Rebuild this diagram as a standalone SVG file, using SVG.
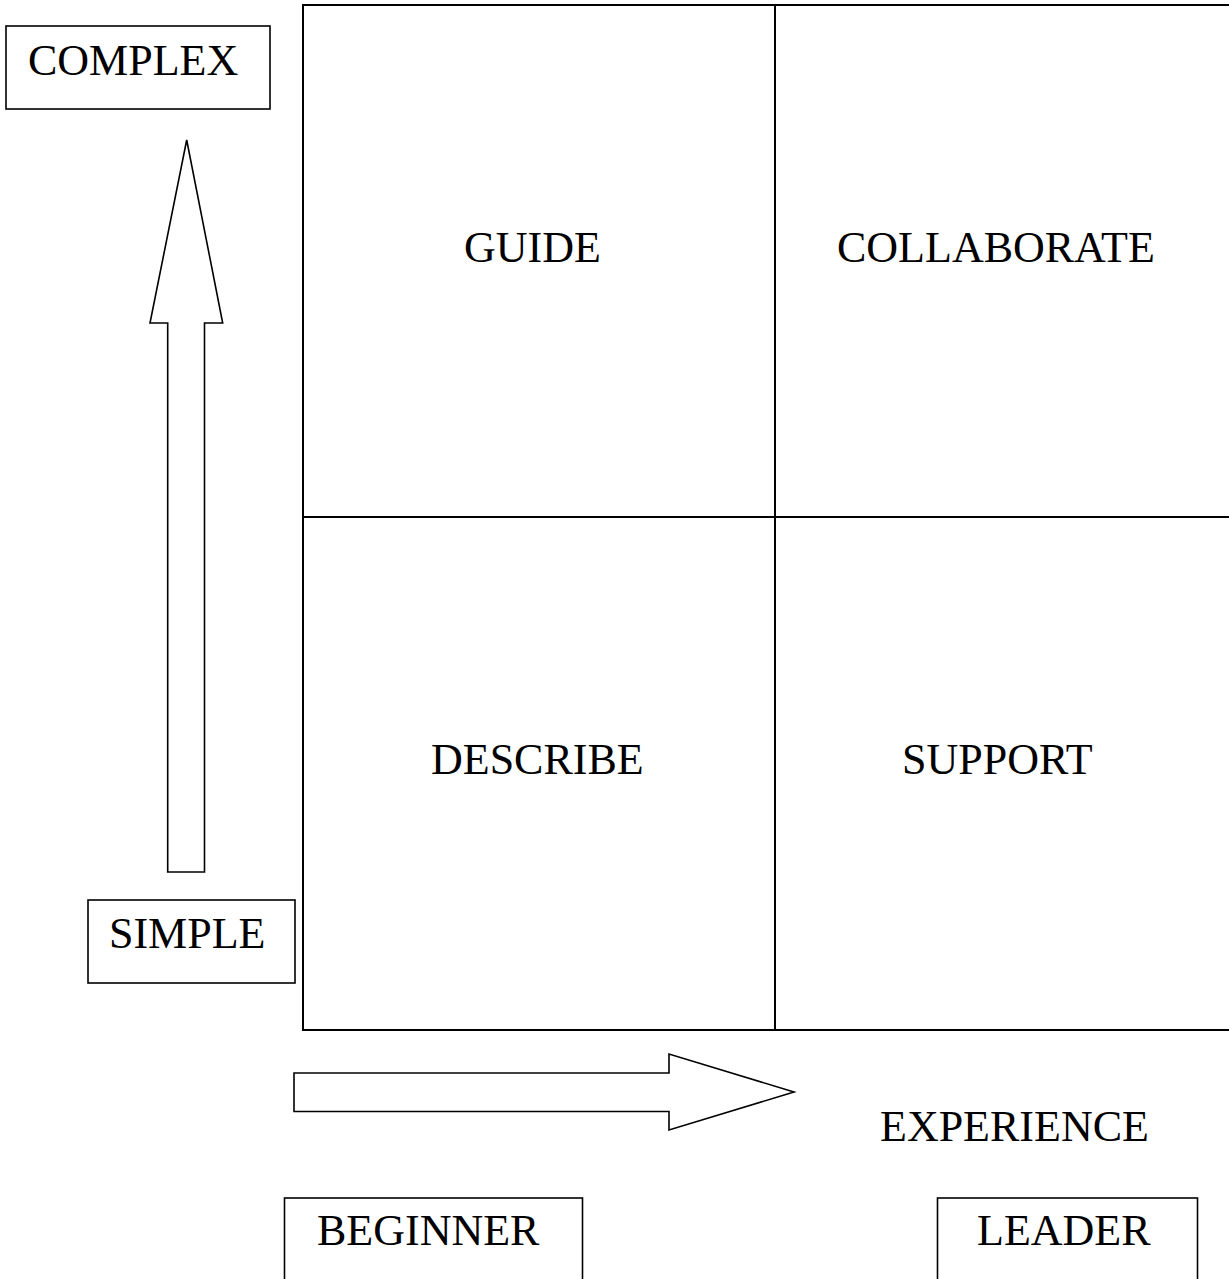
<svg xmlns="http://www.w3.org/2000/svg" width="1229" height="1279" viewBox="0 0 1229 1279">
  <style>
    .frame { fill: #ffffff; stroke: #000000; stroke-width: 2; }
    .box { fill: #ffffff; stroke: #000000; stroke-width: 1.6; }
    .arrow { fill: #ffffff; stroke: #000000; stroke-width: 1.6; stroke-linejoin: miter; }
    .label { font-family: "Liberation Serif", "Times New Roman", serif; font-size: 44px; fill: #000000; }
  </style>
  <rect x="0" y="0" width="1229" height="1279" fill="#ffffff"/>

  <!-- 2x2 matrix -->
  <g id="matrix">
    <rect class="frame" x="303" y="5" width="940" height="1025"/>
    <line x1="775" y1="5" x2="775" y2="1030" stroke="#000" stroke-width="2"/>
    <line x1="303" y1="517" x2="1243" y2="517" stroke="#000" stroke-width="2"/>
  </g>

  <g id="guide"><text class="label" x="464" y="262">GUIDE</text></g>
  <g id="collaborate"><text class="label" x="837" y="262">COLLABORATE</text></g>
  <g id="describe"><text class="label" x="431" y="774">DESCRIBE</text></g>
  <g id="support"><text class="label" x="902" y="774">SUPPORT</text></g>

  <!-- axis labels -->
  <g id="complex">
    <rect class="box" x="6" y="26" width="264" height="83"/>
    <text class="label" x="28" y="75">COMPLEX</text>
  </g>
  <g id="simple">
    <rect class="box" x="88" y="900" width="207" height="83"/>
    <text class="label" x="109" y="948">SIMPLE</text>
  </g>
  <g id="experience"><text class="label" x="880" y="1141">EXPERIENCE</text></g>
  <g id="beginner">
    <rect class="box" x="284.5" y="1198" width="298" height="100"/>
    <text class="label" x="317" y="1245">BEGINNER</text>
  </g>
  <g id="leader">
    <rect class="box" x="937.5" y="1198" width="260" height="100"/>
    <text class="label" x="977" y="1245">LEADER</text>
  </g>

  <!-- block arrows -->
  <g id="connectors">
    <polygon class="arrow" points="186.7,140 222.7,323 204.5,323 204.5,872 167.7,872 167.7,323 150,323"/>
    <polygon class="arrow" points="294,1073 669,1073 669,1054 794,1092 669,1130 669,1111.5 294,1111.5"/>
  </g>
</svg>
